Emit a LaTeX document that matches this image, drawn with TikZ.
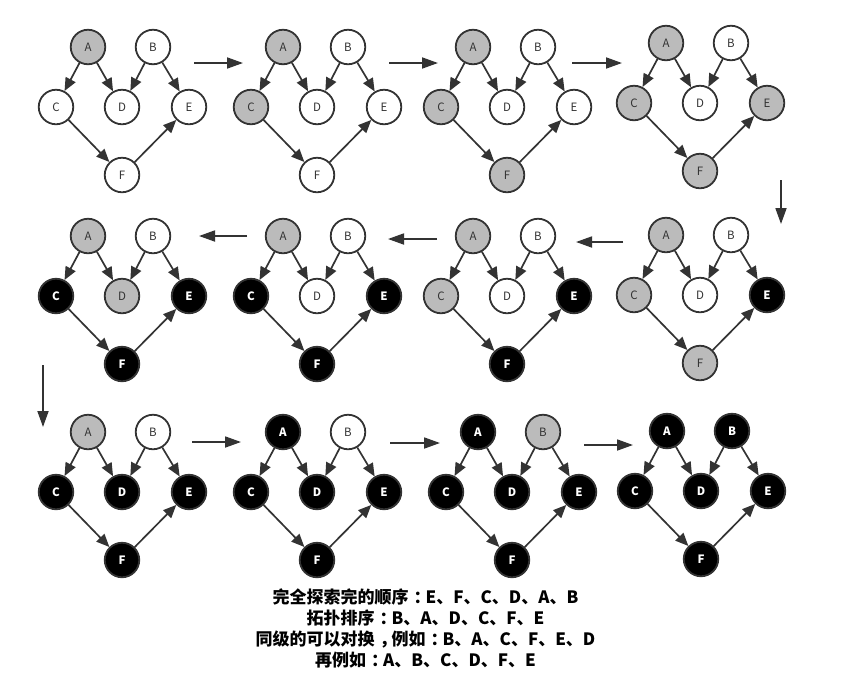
\documentclass[tikz,border=0pt]{standalone}
\usepackage{fontspec}
\newfontfamily\cjk{Noto Sans CJK SC}
\usetikzlibrary{arrows.meta}
\definecolor{edgec}{HTML}{333333}
\definecolor{grayfill}{HTML}{BBBBBB}
\newcommand\mygraph[9]{%
  \begin{scope}[shift={(#2,#3)}]
    \node[#4] (#1A) at (-34,-60) {A};
    \node[#5] (#1B) at (31,-60) {B};
    \node[#6] (#1C) at (-66,0) {C};
    \node[#7] (#1D) at (0,0) {D};
    \node[#8] (#1E) at (67,0) {E};
    \node[#9] (#1F) at (0,68) {F};
    \draw[link] (#1A) -- (#1C);
    \draw[link] (#1A) -- (#1D);
    \draw[link] (#1B) -- (#1D);
    \draw[link] (#1B) -- (#1E);
    \draw[link] (#1C) -- (#1F);
    \draw[link] (#1F) -- (#1E);
  \end{scope}}
\newcommand\ccolon{\kern0.3em：\kern-0.3em}
\newcommand\ccomma{\kern0.3em，\kern-0.3em}
\begin{document}
\begin{tikzpicture}[x=1pt,y=-1pt,
  vtx/.style={circle,draw=edgec,line width=1.8pt,minimum size=34.5pt,inner sep=0pt,
    font=\cjk\fontsize{11.5}{11.5}\selectfont},
  wn/.style={vtx,fill=white,text=edgec},
  gn/.style={vtx,fill=grayfill,text=edgec},
  bn/.style={vtx,fill=black,text=white,font=\cjk\bfseries\fontsize{11.5}{11.5}\selectfont},
  link/.style={draw=edgec,line width=1.7pt,-{Triangle[length=13pt,width=11pt]}},
  flow/.style={draw=edgec,line width=1.8pt,-{Triangle[length=16pt,width=11pt]}},
]
\useasboundingbox[fill=white] (0,0) rectangle (851,689);

% row 1
\mygraph{a}{122}{107}{gn}{wn}{wn}{wn}{wn}{wn}
\mygraph{b}{317}{107}{gn}{wn}{gn}{wn}{wn}{wn}
\mygraph{c}{507}{107}{gn}{wn}{gn}{wn}{wn}{gn}
\mygraph{d}{700}{103}{gn}{wn}{gn}{wn}{gn}{gn}
% row 2
\mygraph{h}{122}{296}{gn}{wn}{bn}{gn}{bn}{bn}
\mygraph{g}{317}{296}{gn}{wn}{bn}{wn}{bn}{bn}
\mygraph{f}{507}{296}{gn}{wn}{gn}{wn}{bn}{bn}
\mygraph{e}{700}{295}{gn}{wn}{gn}{wn}{bn}{gn}
% row 3
\mygraph{i}{122}{492}{gn}{wn}{bn}{bn}{bn}{bn}
\mygraph{j}{317}{492}{bn}{wn}{bn}{bn}{bn}{bn}
\mygraph{k}{512}{492}{bn}{gn}{bn}{bn}{bn}{bn}
\mygraph{l}{701}{491}{bn}{bn}{bn}{bn}{bn}{bn}

% flow arrows
\coordinate (f1s) at (194,63);  \coordinate (f1e) at (243,63);
\coordinate (f2s) at (389,63);  \coordinate (f2e) at (438,63);
\coordinate (f3s) at (572,63);  \coordinate (f3e) at (622,63);
\coordinate (f4s) at (781,180); \coordinate (f4e) at (781,224);
\coordinate (f5s) at (623,242); \coordinate (f5e) at (576,242);
\coordinate (f6s) at (437,239); \coordinate (f6e) at (388,239);
\coordinate (f7s) at (247,236); \coordinate (f7e) at (199,236);
\coordinate (f8s) at (43,365);  \coordinate (f8e) at (43,427);
\coordinate (f9s) at (192,442); \coordinate (f9e) at (241,442);
\coordinate (f10s) at (390,443); \coordinate (f10e) at (440,443);
\coordinate (f11s) at (584,445); \coordinate (f11e) at (633,445);
\foreach \i in {1,...,11} {\draw[flow] (f\i s) -- (f\i e);}

\node[font=\cjk\bfseries\fontsize{17}{20.8}\selectfont,align=center,text=black] (caption) at (425.5,628.5)
  {完全探索完的顺序\ccolon E、F、C、D、A、B\\
   拓扑排序\ccolon B、A、D、C、F、E\\
   同级的可以对换\ccomma 例如\ccolon B、A、C、F、E、D\\
   再例如\ccolon A、B、C、D、F、E};
\end{tikzpicture}
\end{document}
